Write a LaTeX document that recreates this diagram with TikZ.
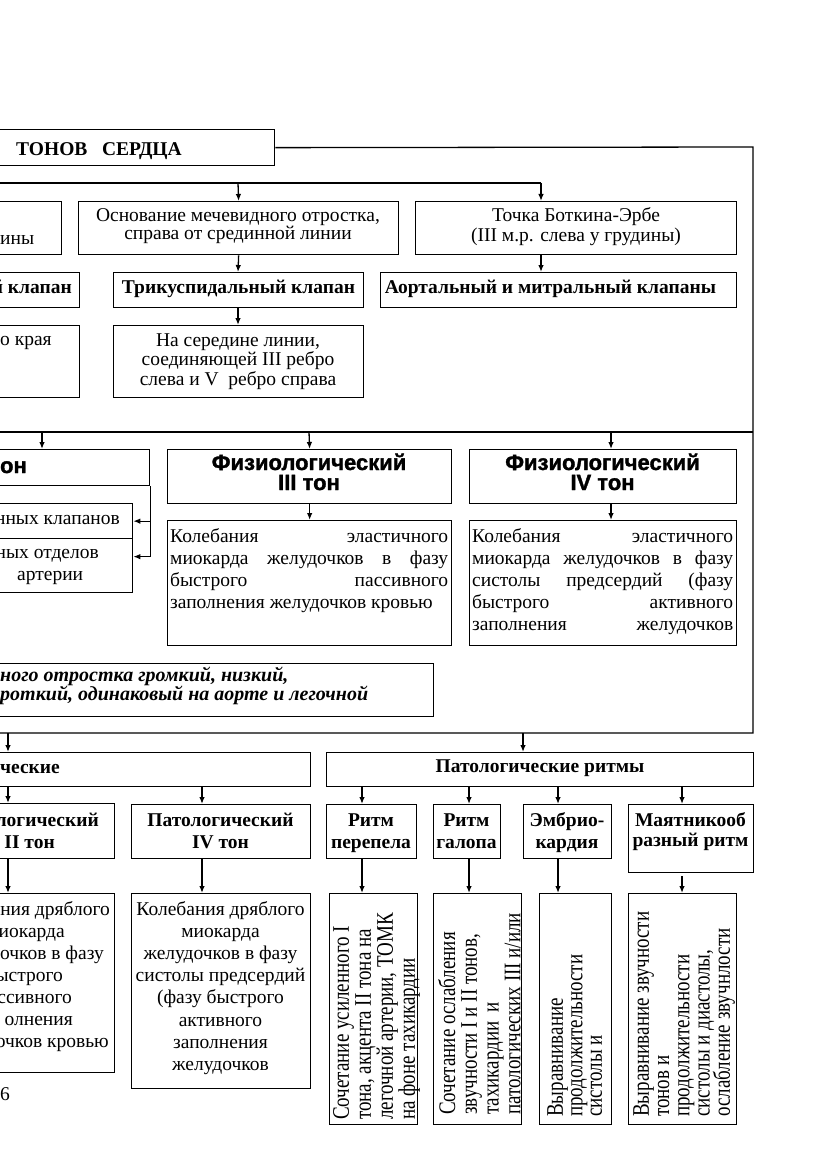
\documentclass[tikz,border=0pt]{standalone}
\usepackage{fontspec}
\usepackage{graphicx}
\setmainfont{Liberation Serif}
\newfontfamily\hvsans{Liberation Sans}[BoldFeatures={FakeBold=1.5}]
\usetikzlibrary{arrows.meta,calc}
\newcommand\bxx[5]{\node[bx,anchor=north west,minimum width={(#4)-(#2)},minimum height={(#5)-(#3)}] (#1) at (#2,#3) {};}
\newcommand\rtext[2]{\scalebox{1}[1.25]{\vbox{\baselineskip=#1pt\lineskiplimit=-100pt\lineskip=0pt #2}}}
\tikzset{
  bx/.style={draw,line width=1.3pt,inner sep=0pt,rectangle},
  ln/.style={line width=1.3pt},
  arr/.style={line width=1.3pt,-{Latex[length=7pt,width=5.5pt]}},
  tnorm/.style={inner sep=0pt,font=\fontsize{19.5}{20}\selectfont},
  tbold/.style={inner sep=0pt,font=\fontsize{19.5}{22}\selectfont\bfseries},
  theavy/.style={inner sep=0pt,font=\fontsize{22}{20}\selectfont\hvsans\bfseries},
  tital/.style={inner sep=0pt,font=\fontsize{20}{19}\selectfont\bfseries\itshape},
  trot/.style={inner sep=0pt,rotate=90,anchor=north west,font=\fontsize{19}{20}\selectfont},
}
\begin{document}
\begin{tikzpicture}[x=1pt,y=-1pt]
\useasboundingbox (0,0) rectangle (831,1174);
\clip (0,0) rectangle (831,1174);
% ---------- title and frame
\bxx{T}{-30}{129}{274}{165}
\node[tbold,anchor=base west] (tT) at (16,156) {ТОНОВ\ \ \ СЕРДЦА};
\coordinate (F1) at (753,147);
\coordinate (F2) at (753,733);
\coordinate (F3) at (-5,733);
\draw[ln] (T.east) -- (F1) -- (F2) -- (F3);
\coordinate (M1) at (-5,432);
\coordinate (M2) at (753,432);
\draw[ln] (M1) -- (M2);
% ---------- row 1
\bxx{B1L}{-70}{201}{61}{254}
\node[tnorm,anchor=base west] (tB1L) at (0,244) {ины};
\bxx{B1M}{78}{201}{398}{254}
\node[tnorm,anchor=base,align=center,font=\fontsize{19.5}{18}\selectfont] (tB1M) at (238,239.5) {Основание мечевидного отростка,\\справа от срединной линии};
\bxx{B1R}{415}{201}{736}{254}
\node[tnorm,anchor=base,align=center] (tB1R) at (576,241) {Точка Боткина-Эрбе\\(III м.р. слева у грудины)};
% ---------- row 2
\bxx{B2L}{-70}{272}{79}{307}
\node[tbold,anchor=base east] (tB2L) at (72,293) {й клапан};
\bxx{B2M}{113}{272}{363}{307}
\node[tbold,anchor=base] (tB2M) at (238.5,293) {Трикуспидальный клапан};
\bxx{B2R}{380}{272}{736}{307}
\node[tbold,anchor=base] (tB2R) at (550.5,293) {Аортальный и митральный клапаны};
% ---------- row 3
\bxx{B3L}{-70}{325}{79}{397}
\node[tnorm,anchor=base west] (tB3L) at (0,345) {о края};
\bxx{B3M}{113}{325}{363}{397}
\node[tnorm,anchor=base,align=center,font=\fontsize{19.5}{19.5}\selectfont] (tB3M) at (238,385) {На середине линии,\\соединяющей III ребро\\слева и V\ \ ребро справа};
% arrows top part
\coordinate (L183a) at (-5,183);
\coordinate (L183b) at (541,183);
\coordinate (x238) at (238,0);
\draw[ln] (L183a) -- (L183b);
\draw[arr] (L183b) -- (L183b |- B1R.north);
\draw[arr] (x238 |- L183a) -- (B1M.north);
\draw[arr] (L183b |- B1R.south) -- (L183b |- B2R.north);
\draw[arr] (B1M.south) -- (x238 |- B2M.north);
\draw[arr] (x238 |- B2M.south) -- (x238 |- B3M.north);
% ---------- row 4
\bxx{B4L}{-70}{449}{149}{485}
\node[theavy,anchor=base east] (tB4L) at (27,473) {он};
\bxx{B4La}{-70}{503}{132}{538}
\node[tnorm,anchor=base east] (tB4La) at (120,524) {нных клапанов};
\bxx{B4Lb}{-70}{538}{132}{592}
\node[tnorm,anchor=base east] (tB4Lb) at (99,558) {ных отделов};
\node[tnorm,anchor=base west] (tB4Lc) at (17,580) {артерии};
\draw[arr] (B4L.south east) |- (B4La.east);
\draw[arr] (B4L.south east) |- ([yshift=9pt]B4Lb.east);
\bxx{B4M}{167}{449}{451}{503}
\node[theavy,anchor=base,align=center] (tB4M) at (309,490) {Физиологический\\III тон};
\bxx{B4Mt}{167}{520}{451}{645}
\node[tnorm,anchor=base west,align=left,font=\fontsize{19.5}{22}\selectfont] (tB4Mt) at (170,608) {\makebox[278pt][s]{Колебания эластичного}\\\makebox[278pt][s]{миокарда желудочков в фазу}\\\makebox[278pt][s]{быстрого пассивного}\\заполнения желудочков кровью};
\bxx{B4R}{469}{449}{736}{503}
\node[theavy,anchor=base,align=center] (tB4R) at (602.5,490) {Физиологический\\IV тон};
\bxx{B4Rt}{469}{520}{736}{645}
\node[tnorm,anchor=base west,align=left,font=\fontsize{19.5}{22.2}\selectfont] (tB4Rt) at (472,630.8) {\makebox[261pt][s]{Колебания эластичного}\\\makebox[261pt][s]{миокарда желудочков в фазу}\\\makebox[261pt][s]{систолы предсердий (фазу}\\\makebox[261pt][s]{быстрого активного}\\\makebox[261pt][s]{заполнения желудочков}};
\coordinate (J1) at (42,432);
\coordinate (J2) at (309,432);
\coordinate (J3) at (611,432);
\draw[arr] (J1) -- (J1 |- B4L.north);
\draw[arr] (J2) -- (B4M.north);
\draw[arr] (J3) -- (J3 |- B4R.north);
\draw[arr] (B4M.south) -- (B4Mt.north);
\draw[arr] (J3 |- B4R.south) -- (J3 |- B4Rt.north);
% ---------- row 5
\bxx{B5}{-70}{663}{433}{716}
\node[tital,anchor=base west,align=left] (tB5) at (0,700) {ного отростка громкий, низкий,\\роткий, одинаковый на аорте и легочной};
% ---------- row 6
\coordinate (J4) at (8,733);
\coordinate (J5) at (523,733);
\bxx{B6L}{-70}{752}{310}{786}
\node[tbold,anchor=base west] (tB6L) at (0,773) {ческие};
\bxx{B6R}{326}{752}{753}{786}
\node[tbold,anchor=base] (tB6R) at (540,772) {Патологические ритмы};
\draw[arr] (J4) -- (J4 |- B6L.north);
\draw[arr] (J5) -- (J5 |- B6R.north);
% ---------- row 7
\bxx{B7a}{-70}{803}{114}{858}
\node[tbold,anchor=base east] (tB7a1) at (99,826) {логический};
\node[tbold,anchor=base east] (tB7a2) at (55,848) {II тон};
\bxx{B7b}{131}{804}{310}{858}
\node[tbold,anchor=base,align=center] (tB7b) at (220.5,848) {Патологический\\IV тон};
\bxx{B7c}{326}{804}{416}{858}
\node[tbold,anchor=base,align=center] (tB7c) at (371,848) {Ритм\\перепела};
\bxx{B7d}{433}{804}{500}{858}
\node[tbold,anchor=base,align=center] (tB7d) at (466.5,848) {Ритм\\галопа};
\bxx{B7e}{523}{804}{611}{858}
\node[tbold,anchor=base,align=center] (tB7e) at (567,848) {Эмбрио-\\кардия};
\bxx{B7f}{628}{804}{753}{872}
\node[tbold,anchor=base,align=center,font=\fontsize{19.5}{20}\selectfont\bfseries] (tB7f) at (690.5,846) {Маятникооб\\разный ритм};
\coordinate (x8) at (8,0);
\coordinate (x202) at (202,0);
\coordinate (x362) at (362,0);
\coordinate (x469) at (469,0);
\coordinate (x558) at (558,0);
\coordinate (x682) at (682,0);
\draw[arr] (x8 |- B6L.south) -- (x8 |- B7a.north);
\draw[arr] (x202 |- B6L.south) -- (x202 |- B7b.north);
\draw[arr] (x362 |- B6R.south) -- (x362 |- B7c.north);
\draw[arr] (x469 |- B6R.south) -- (x469 |- B7d.north);
\draw[arr] (x558 |- B6R.south) -- (x558 |- B7e.north);
\draw[arr] (x682 |- B6R.south) -- (x682 |- B7f.north);
% ---------- row 8
\bxx{B8a}{-70}{893}{114}{1072}
\node[tnorm,anchor=base east] (tB8a1) at (110,915) {ния дряблого};
\node[tnorm,anchor=base east] (tB8a2) at (65,937) {иокарда};
\node[tnorm,anchor=base east] (tB8a3) at (104,959) {очков в фазу};
\node[tnorm,anchor=base east] (tB8a4) at (63,981) {ыстрого};
\node[tnorm,anchor=base east] (tB8a5) at (72,1003) {ссивного};
\node[tnorm,anchor=base east] (tB8a6) at (73,1025) {олнения};
\node[tnorm,anchor=base east] (tB8a7) at (109,1047) {очков кровью};
\bxx{B8b}{131}{893}{310}{1088}
\node[tnorm,anchor=base,align=center,font=\fontsize{19.5}{22.2}\selectfont] (tB8b) at (220.5,1070.4) {Колебания дряблого\\миокарда\\желудочков в фазу\\систолы предсердий\\(фазу быстрого\\активного\\заполнения\\желудочков};
\bxx{B8c}{329}{893}{417}{1124}
\node[trot] (tB8c) at (333,1120) {\rtext{17.6}{\hbox{Сочетание усиленного I}\hbox{тона, акцента II тона на}\hbox{легочной артерии, ТОМК}\hbox{на фоне тахикардии}}};
\bxx{B8d}{433}{893}{521}{1124}
\node[trot] (tB8d) at (438,1115) {\rtext{17.4}{\hbox{Сочетание ослабления}\hbox{звучности I и II тонов,}\hbox{тахикардии\ \ и}\hbox{патологических III и/или}}};
\bxx{B8e}{539}{893}{611}{1124}
\node[trot] (tB8e) at (547,1117) {\rtext{15.6}{\hbox{Выравнивание}\hbox{продолжительности}\hbox{систолы и}}};
\bxx{B8f}{628}{893}{736}{1124}
\node[trot] (tB8f) at (633,1117) {\rtext{16.2}{\hbox{Выравнивание звучности}\hbox{тонов и}\hbox{продолжительности}\hbox{систолы и диастолы,}\hbox{ослабление звучнлости}}};
\draw[arr] (x8 |- B7a.south) -- (x8 |- B8a.north);
\draw[arr] (x202 |- B7b.south) -- (x202 |- B8b.north);
\draw[arr] (x362 |- B7c.south) -- (x362 |- B8c.north);
\draw[arr] (x469 |- B7d.south) -- (x469 |- B8d.north);
\draw[arr] (x558 |- B7e.south) -- (x558 |- B8e.north);
\draw[arr,shorten <=3pt] (x682 |- B7f.south) -- (x682 |- B8f.north);
% page number
\node[tnorm,anchor=base west] (pg) at (0,1100) {6};
\end{tikzpicture}
\end{document}
